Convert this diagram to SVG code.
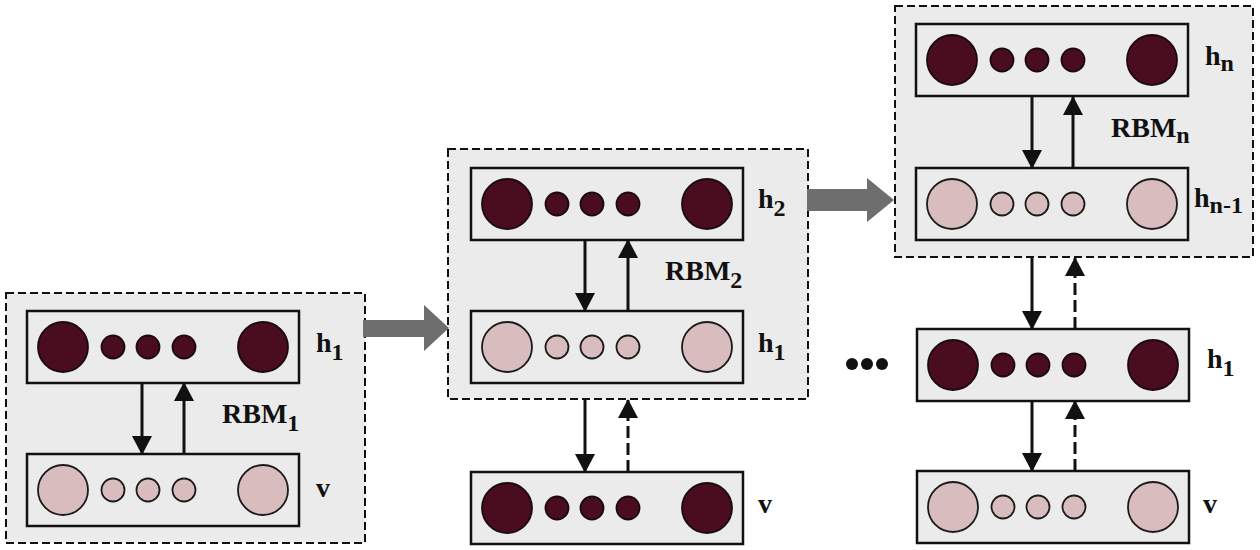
<svg xmlns="http://www.w3.org/2000/svg" xmlns:xlink="http://www.w3.org/1999/xlink" width="1260" height="550" viewBox="0 0 1260 550">
<style>
.panel{fill:#ebebeb;stroke:#111;stroke-width:2;stroke-dasharray:8 4}
.box{fill:#ebebeb;stroke:#111;stroke-width:2.5}
.dk{fill:#4a0d20;stroke:#1a0a0e;stroke-width:1.8}
.lt{fill:#d8bcbe;stroke:#1a1a1a;stroke-width:1.8}
.lbl{font-family:"Liberation Serif","Times New Roman",serif;font-weight:bold;font-size:28px;fill:#111}
.sub{font-size:24px}
.ar{stroke:#111;stroke-width:3;fill:none;marker-end:url(#ah)}
.ard{stroke:#111;stroke-width:3;fill:none;stroke-dasharray:12 5;marker-end:url(#ah)}
.big{fill:#6e6e6e}
</style>
<defs>
<marker id="ah" markerUnits="userSpaceOnUse" markerWidth="20" markerHeight="20" viewBox="0 0 18 19" refX="17" refY="9.5" orient="auto">
<path d="M0,0 L18,9.5 L0,19 z" fill="#111"/>
</marker>
<g id="dkLayer">
<rect class="box" x="0" y="0" width="272" height="72"/>
<circle class="dk" cx="36" cy="36" r="25"/>
<circle class="dk" cx="86" cy="36" r="11.5"/>
<circle class="dk" cx="121" cy="36" r="11.5"/>
<circle class="dk" cx="157" cy="36" r="11.5"/>
<circle class="dk" cx="236" cy="36" r="25"/>
</g>
<g id="ltLayer">
<rect class="box" x="0" y="0" width="272" height="72"/>
<circle class="lt" cx="36" cy="36" r="25"/>
<circle class="lt" cx="86" cy="36" r="11.5"/>
<circle class="lt" cx="121" cy="36" r="11.5"/>
<circle class="lt" cx="157" cy="36" r="11.5"/>
<circle class="lt" cx="236" cy="36" r="25"/>
</g>
</defs>
<rect width="1260" height="550" fill="#ffffff"/>

<g id="panel1">
<rect class="panel" x="6" y="293" width="359" height="250"/>
<text class="lbl" x="222" y="423">RBM<tspan class="sub" dy="8">1</tspan></text>
</g>
<g id="panel2">
<rect class="panel" x="448" y="149" width="360" height="250"/>
<text class="lbl" x="665" y="280">RBM<tspan class="sub" dy="8">2</tspan></text>
</g>
<g id="panel3">
<rect class="panel" x="895" y="6" width="358" height="251"/>
<text class="lbl" x="1111" y="137">RBM<tspan class="sub" dy="6">n</tspan></text>
</g>

<g id="p1_h1"><use xlink:href="#dkLayer" x="27" y="311"/><text class="lbl" x="316" y="352">h<tspan class="sub" dy="8">1</tspan></text></g>
<g id="p1_v"><use xlink:href="#ltLayer" x="27" y="454"/><text class="lbl" x="316" y="497">v</text></g>
<g id="p2_h2"><use xlink:href="#dkLayer" x="471" y="168"/><text class="lbl" x="758" y="208">h<tspan class="sub" dy="8">2</tspan></text></g>
<g id="p2_h1"><use xlink:href="#ltLayer" x="471" y="311"/><text class="lbl" x="758" y="352">h<tspan class="sub" dy="8">1</tspan></text></g>
<g id="p2_v"><use xlink:href="#dkLayer" x="471" y="472"/><text class="lbl" x="758" y="513">v</text></g>
<g id="p3_hn"><use xlink:href="#dkLayer" x="916" y="24"/><text class="lbl" x="1205" y="65">h<tspan class="sub" dy="6">n</tspan></text></g>
<g id="p3_hn1"><use xlink:href="#ltLayer" x="916" y="168"/><text class="lbl" x="1194" y="207">h<tspan class="sub" dy="6">n-1</tspan></text></g>
<g id="p3_h1"><use xlink:href="#dkLayer" x="917" y="329"/><text class="lbl" x="1207" y="368">h<tspan class="sub" dy="8">1</tspan></text></g>
<g id="p3_v"><use xlink:href="#ltLayer" x="917" y="471"/><text class="lbl" x="1203" y="513">v</text></g>

<g id="ellipsis">
<circle cx="852" cy="364" r="6" fill="#111"/>
<circle cx="867" cy="364" r="6" fill="#111"/>
<circle cx="882" cy="364" r="6" fill="#111"/>
</g>

<g id="connectors">
<line class="ar" x1="142" y1="383" x2="142" y2="454"/>
<line class="ar" x1="184" y1="454" x2="184" y2="383"/>
<line class="ar" x1="585" y1="240" x2="585" y2="311"/>
<line class="ar" x1="628" y1="311" x2="628" y2="240"/>
<line class="ar" x1="585" y1="400" x2="585" y2="472"/>
<line class="ard" x1="628" y1="472" x2="628" y2="400"/>
<line class="ar" x1="1032" y1="97" x2="1032" y2="168"/>
<line class="ar" x1="1073" y1="168" x2="1073" y2="97"/>
<line class="ar" x1="1032" y1="258" x2="1032" y2="329"/>
<line class="ard" x1="1075" y1="329" x2="1075" y2="258"/>
<line class="ar" x1="1032" y1="401" x2="1032" y2="471"/>
<line class="ard" x1="1075" y1="471" x2="1075" y2="401"/>
<polygon class="big" points="363,320 424,320 424,305 449,328 424,351 424,337 363,337"/>
<polygon class="big" points="807,189 867,189 867,178 894,200 867,222 867,211 807,211"/>
</g>
</svg>
